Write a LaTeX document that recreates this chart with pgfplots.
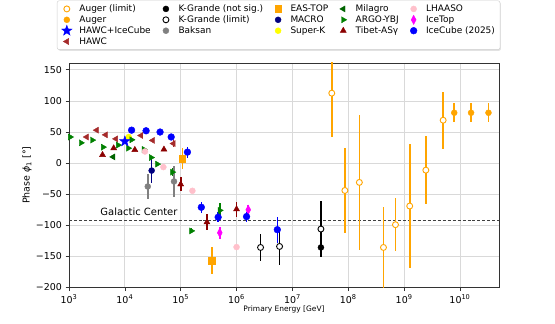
\documentclass[border=0pt]{standalone}
\usepackage{pgfplots}
\pgfplotsset{compat=1.18}
\usepackage{fontspec}
\setmainfont{DejaVu Sans}
\usetikzlibrary{shadows}
\definecolor{aorange}{HTML}{FFA500}
\definecolor{hbrown}{HTML}{A52A2A}
\definecolor{bgray}{HTML}{808080}
\definecolor{mnavy}{HTML}{000080}
\definecolor{skyellow}{HTML}{FFFF00}
\definecolor{mgreen}{HTML}{006400}
\definecolor{agreen}{HTML}{008000}
\definecolor{tred}{HTML}{8B0000}
\definecolor{lpink}{HTML}{FFC0CB}
\definecolor{itmag}{HTML}{FF00FF}
\definecolor{icblue}{HTML}{0000FF}
\pgfdeclareplotmark{fstar}{%
  \pgfpathmoveto{\pgfqpointpolar{90}{\pgfplotmarksize}}%
  \pgfpathlineto{\pgfqpointpolar{126}{0.4\pgfplotmarksize}}%
  \pgfpathlineto{\pgfqpointpolar{162}{\pgfplotmarksize}}%
  \pgfpathlineto{\pgfqpointpolar{198}{0.4\pgfplotmarksize}}%
  \pgfpathlineto{\pgfqpointpolar{234}{\pgfplotmarksize}}%
  \pgfpathlineto{\pgfqpointpolar{270}{0.4\pgfplotmarksize}}%
  \pgfpathlineto{\pgfqpointpolar{306}{\pgfplotmarksize}}%
  \pgfpathlineto{\pgfqpointpolar{342}{0.4\pgfplotmarksize}}%
  \pgfpathlineto{\pgfqpointpolar{18}{\pgfplotmarksize}}%
  \pgfpathlineto{\pgfqpointpolar{54}{0.4\pgfplotmarksize}}%
  \pgfpathclose
  \pgfusepathqfillstroke}
\pgfplotsset{eb/.style={only marks, forget plot, error bars/y dir=both, error bars/y explicit, error bars/error mark=none}}
\begin{document}
\begin{tikzpicture}
\path[use as bounding box] (-69bp,-36.5bp) rectangle (486bp,287.5bp);
\begin{axis}[
  at={(0,0)}, anchor=south west,
  scale only axis, width=430bp, height=224.5bp,
  xmode=log, log basis x=10,
  xmin=1e3, xmax=5e10, ymin=-200, ymax=161,
  xtick={1e3,1e4,1e5,1e6,1e7,1e8,1e9,1e10},
  xticklabels={10\textsuperscript{3},10\textsuperscript{4},10\textsuperscript{5},10\textsuperscript{6},10\textsuperscript{7},10\textsuperscript{8},10\textsuperscript{9},10\textsuperscript{10}},
  ytick={-200,-150,-100,-50,0,50,100,150},
  yticklabels={−200,−150,−100,−50,0,50,100,150},
  tick align=outside, tick pos=left,
  major tick length=3.5bp, minor tick length=2bp,
  grid=major, major grid style={gray!30, line width=0.8pt},
  axis line style={black!80, line width=0.8pt},
  every tick/.style={black!80, line width=0.7pt},
  ticklabel style={font=\fontsize{9.5}{11}\selectfont},
  xlabel={Primary Energy [GeV]},
  xlabel style={font=\fontsize{7.5}{9}\selectfont, at={(rel axis cs:0.5,-0.0958)}, anchor=center},
  ylabel={Phase \textit{ϕ}\textsubscript{1} [°]},
  ylabel style={font=\fontsize{9.5}{11}\selectfont, at={(rel axis cs:-0.0977,0.5)}, anchor=center, rotate=0},
  legend columns=5,
  legend cell align=left,
  legend image code/.code={\path (0cm,0cm) (0.58cm,0cm); \draw[#1] plot coordinates {(0.22cm,0cm)};},
  legend style={font=\fontsize{9}{10}\selectfont, at={(-0.028,1.278)}, anchor=north west,
    draw=gray!40, rounded corners=2pt, fill=white,
    drop shadow={shadow xshift=1bp, shadow yshift=-1.2bp, fill=gray!45},
    /tikz/every even column/.append style={column sep=6.5bp},
    /tikz/row sep=-1.4bp},
]
% legend (row-wise order equals matplotlib column-wise order)
\addlegendimage{only marks, mark=*, draw=aorange, fill=white, mark size=3, line width=0.9pt}
\addlegendentry{Auger (limit)}
\addlegendimage{only marks, mark=*, draw=black, fill=black, mark size=3}
\addlegendentry{K-Grande (not sig.)}
\addlegendimage{only marks, mark=square*, draw=aorange, fill=aorange, mark size=3.3}
\addlegendentry{EAS-TOP}
\addlegendimage{only marks, mark=triangle*, draw=mgreen, fill=mgreen, mark size=3.5, mark options={rotate=90}}
\addlegendentry{Milagro}
\addlegendimage{only marks, mark=*, draw=lpink, fill=lpink, mark size=3}
\addlegendentry{LHAASO}
\addlegendimage{only marks, mark=*, draw=aorange, fill=aorange, mark size=3}
\addlegendentry{Auger}
\addlegendimage{only marks, mark=*, draw=black, fill=white, mark size=3, line width=0.9pt}
\addlegendentry{K-Grande (limit)}
\addlegendimage{only marks, mark=*, draw=mnavy, fill=mnavy, mark size=3}
\addlegendentry{MACRO}
\addlegendimage{only marks, mark=triangle*, draw=agreen, fill=agreen, mark size=3.5, mark options={rotate=-90}}
\addlegendentry{ARGO-YBJ}
\addlegendimage{only marks, mark=diamond*, draw=itmag, fill=itmag, mark size=3.3, mark options={yscale=1.4}}
\addlegendentry{IceTop}
\addlegendimage{only marks, mark=fstar, draw=icblue, fill=icblue, mark size=5.5}
\addlegendentry{HAWC+IceCube}
\addlegendimage{only marks, mark=*, draw=bgray, fill=bgray, mark size=3}
\addlegendentry{Baksan}
\addlegendimage{only marks, mark=*, draw=skyellow, fill=skyellow, mark size=3}
\addlegendentry{Super-K}
\addlegendimage{only marks, mark=triangle*, draw=tred, fill=tred, mark size=3.5}
\addlegendentry{Tibet-ASγ}
\addlegendimage{only marks, mark=*, draw=icblue, fill=icblue, mark size=3.4}
\addlegendentry{IceCube (2025)}
\addlegendimage{only marks, mark=triangle*, draw=hbrown, fill=hbrown, mark size=3.5, mark options={rotate=90}}
\addlegendentry{HAWC}

% Galactic Center line
\addplot[forget plot, black!75, line width=1.1pt, dash pattern=on 3pt off 2pt] coordinates {(1e3,-92.5) (5e10,-92.5)};
\node[anchor=base west, font=\fontsize{10}{12}\selectfont] at (axis cs:3.16e3,-85) {Galactic Center};

% Auger (limit): error bars
\addplot[eb, draw=aorange, mark=none, error bars/error bar style={draw=aorange, line width=1.6pt}] coordinates {
(5.07e7,112.5) +- (0,71)
(8.7e7,-44) +- (0,68)
(1.58e8,-31) +- (0,108)
(4.27e8,-135.6) +- (0,65)
(7.0e8,-99) +- (0,43)
(1.26e9,-69) +- (0,100)
(2.45e9,-11.3) +- (0,55)
(5.0e9,69) +- (0,46)
};
% Auger (limit): markers
\addplot[only marks, forget plot, draw=aorange, fill=white, mark=*, mark size=3, line width=0.9pt] coordinates {
(5.07e7,112.5) (8.7e7,-44) (1.58e8,-31) (4.27e8,-135.6) (7.0e8,-99) (1.26e9,-69) (2.45e9,-11.3) (5.0e9,69)
};
% Auger
\addplot[eb, color=aorange, mark=*, mark size=3, mark options={fill=aorange}, error bars/error bar style={draw=aorange, line width=1.6pt}] coordinates {
(7.9e9,81) +- (0,15)
(1.58e10,81) +- (0,15)
(3.24e10,81) +- (0,15)
};
% HAWC
\addplot[eb, color=hbrown, mark=triangle*, mark size=3.5, mark options={fill=hbrown, rotate=90}, error bars/error bar style={draw=hbrown, line width=1.6pt}] coordinates {
(2.07e3,42) +- (0,2)
(3.13e3,53) +- (0,2)
(4.53e3,45.5) +- (0,2)
(6.92e3,39) +- (0,2)
(1.95e4,44.4) +- (0,3)
(3.16e4,36.5) +- (0,3)
(7.41e4,31.5) +- (0,6)
};
% K-Grande (not sig.)
\addplot[eb, color=black, mark=*, mark size=3, mark options={fill=black}, error bars/error bar style={draw=black, line width=1.6pt}] coordinates {
(3.24e7,-135.6) +- (0,16)
};
% K-Grande (limit): error bars
\addplot[eb, draw=black, mark=none, error bars/error bar style={draw=black, line width=1.6pt}] coordinates {
(2.69e6,-135.6) +- (0,21)
(5.89e6,-134) +- (0,30)
(3.24e7,-106) +- (0,45)
};
% K-Grande (limit): markers
\addplot[only marks, forget plot, draw=black, fill=white, mark=*, mark size=3, line width=0.9pt] coordinates {
(2.69e6,-135.6) (5.89e6,-134) (3.24e7,-106)
};
% Baksan
\addplot[eb, color=bgray, mark=*, mark size=3, mark options={fill=bgray}, error bars/error bar style={draw=bgray, line width=1.6pt}] coordinates {
(2.57e4,-37.6) +- (0,20)
(7.59e4,-29.5) +- (0,25)
};
% EAS-TOP
\addplot[eb, color=aorange, mark=square*, mark size=3.3, mark options={fill=aorange}, error bars/error bar style={draw=aorange, line width=1.6pt}] coordinates {
(1.07e5,7) +- (0,17)
(3.63e5,-156.6) +- (0,22)
};
% MACRO
\addplot[eb, color=mnavy, mark=*, mark size=3, mark options={fill=mnavy}, error bars/error bar style={draw=mnavy, line width=1.6pt}] coordinates {
(3.02e4,-12) +- (0,20)
};
% Super-K
\addplot[eb, color=skyellow, mark=*, mark size=3, mark options={fill=skyellow}, error bars/error bar style={draw=skyellow, line width=1.6pt}] coordinates {
(1.17e4,42) +- (0,3)
};
% Milagro
\addplot[eb, color=mgreen, mark=triangle*, mark size=3.5, mark options={fill=mgreen, rotate=90}, error bars/error bar style={draw=mgreen, line width=1.6pt}] coordinates {
(6.17e3,10) +- (0,3)
};
% ARGO-YBJ
\addplot[eb, color=agreen, mark=triangle*, mark size=3.5, mark options={fill=agreen, rotate=-90}, error bars/error bar style={draw=agreen, line width=1.6pt}] coordinates {
(1.05e3,42) +- (0,2)
(1.64e3,32.6) +- (0,2)
(2.61e3,37) +- (0,2)
(4.07e3,25.7) +- (0,2)
(7.59e3,29) +- (0,2)
(1.15e4,24) +- (0,2)
(1.32e4,37.5) +- (0,2)
(2.19e4,22) +- (0,3)
(2.95e4,9) +- (0,3)
(3.8e4,-1.6) +- (0,3)
(7.08e4,-14.5) +- (0,6)
(1.55e5,-109) +- (0,4)
(5.01e5,-76) +- (0,12)
};
% Tibet-ASgamma
\addplot[eb, color=tred, mark=triangle*, mark size=3.5, mark options={fill=tred}, error bars/error bar style={draw=tred, line width=1.6pt}] coordinates {
(3.98e3,13.3) +- (0,2)
(6.31e3,24) +- (0,2)
(1.51e4,21.4) +- (0,2)
(5.01e4,22) +- (0,3)
(1.0e5,-34) +- (0,11.5)
(2.95e5,-95) +- (0,13)
(1.0e6,-74) +- (0,12)
};
% LHAASO
\addplot[eb, color=lpink, mark=*, mark size=3, mark options={fill=lpink}, error bars/error bar style={draw=lpink, line width=1.6pt}] coordinates {
(2.29e4,18.7) +- (0,2)
(4.9e4,-6.4) +- (0,2)
(1.62e5,-44.5) +- (0,2)
(1.0e6,-135) +- (0,3)
};
% IceTop
\addplot[eb, color=itmag, mark=diamond*, mark size=3.3, mark options={fill=itmag, yscale=1.4}, error bars/error bar style={draw=itmag, line width=1.6pt}] coordinates {
(5.01e5,-112) +- (0,10)
(1.62e6,-75) +- (0,8)
};
% HAWC+IceCube
\addplot[eb, color=icblue, mark=fstar, mark size=5.5, mark options={fill=icblue}, error bars/error bar style={draw=icblue, line width=1.6pt}] coordinates {
(1.0e4,35) +- (0,3)
};
% IceCube (2025)
\addplot[eb, color=icblue, mark=*, mark size=3.4, mark options={fill=icblue}, error bars/error bar style={draw=icblue, line width=1.6pt}] coordinates {
(1.32e4,53) +- (0,3)
(2.4e4,52) +- (0,3)
(4.27e4,50) +- (0,3)
(6.76e4,42) +- (0,4)
(1.32e5,17.7) +- (0,9)
(2.34e5,-71) +- (0,9)
(4.68e5,-87) +- (0,8)
(1.51e6,-86) +- (0,8)
(5.37e6,-107) +- (0,21)
};
\end{axis}
\end{tikzpicture}
\end{document}
